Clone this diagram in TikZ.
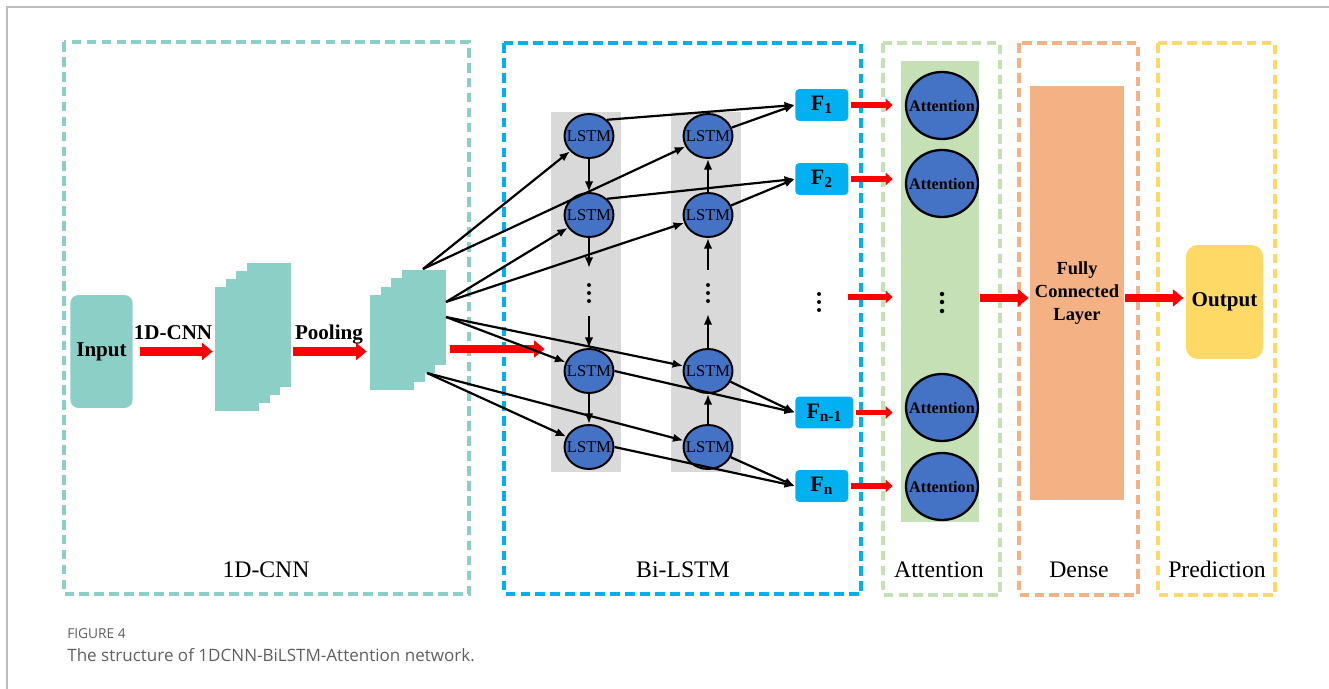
\documentclass[tikz,border=0pt]{standalone}
\usepackage{fontspec}
\setmainfont{Liberation Serif}
\newfontfamily\capfont{Open Sans}
\usepackage{xcolor}
\usepackage{tikz}
\usetikzlibrary{arrows.meta}
\usetikzlibrary{shapes.geometric}
\definecolor{cnnteal}{HTML}{8CCFC7}
\definecolor{lstmcyan}{HTML}{00B0F0}
\definecolor{lstmblue}{HTML}{4472C4}
\definecolor{colgray}{HTML}{D9D9D9}
\definecolor{attgreen}{HTML}{C5E0B4}
\definecolor{fcorange}{HTML}{F4B183}
\definecolor{outyellow}{HTML}{FFD966}
\definecolor{arrred}{HTML}{FF0000}
\definecolor{framegray}{HTML}{BDBDBD}
\definecolor{capgray}{HTML}{5F5F5F}
\newcommand{\celltext}[1]{\makebox[0pt]{#1}}

\begin{document}
\begin{tikzpicture}[x=0.02cm,y=-0.02cm,
    dashbox/.style={draw=#1, line width=1.9pt, dash pattern=on 5.5pt off 3pt},
    blk/.style={black, line width=1.25pt, -{Latex[length=6pt,width=4.8pt]}},
    bigred/.style={arrred, line width=5pt, -{Triangle[length=6pt,width=9.5pt]}},
    smallred/.style={arrred, line width=3.3pt, -{Triangle[length=4pt,width=7pt]}},
    cnnmap/.style={fill=cnnteal, minimum width=0.88cm, minimum height=2.48cm, inner sep=0pt},
    poolmap/.style={fill=cnnteal, minimum width=0.88cm, minimum height=1.9cm, inner sep=0pt},
    lstmcell/.style={ellipse, draw=black, line width=1.1pt, fill=lstmblue, minimum width=0.98cm, minimum height=0.88cm, inner sep=0pt, font=\fontsize{9.4}{10}\selectfont},
    attcell/.style={ellipse, draw=black, line width=1.3pt, fill=lstmblue, minimum width=1.44cm, minimum height=1.34cm, inner sep=0pt, font=\bfseries\fontsize{9.2}{10}\selectfont},
    fbox/.style={fill=lstmcyan, rounded corners=0.08cm, minimum width=1.06cm, minimum height=0.64cm, inner sep=0pt, anchor=west, font=\bfseries\fontsize{12.5}{13}\selectfont},
    boldtxt/.style={font=\bfseries\fontsize{12}{14}\selectfont},
    secttxt/.style={anchor=base, font=\fontsize{13.5}{15}\selectfont}]
    \useasboundingbox (0,0) rectangle (1329,689);
    % Draw page frame
    \draw[framegray, line width=0.9pt] (7,689) -- (7,7) -- (1329,7);
    % Draw dashed section boxes
    \draw[dashbox=cnnteal] (64,42) rectangle (469,594);
    \draw[dashbox=lstmcyan] (504,43) rectangle (861,594);
    \draw[dashbox=attgreen] (883,43) rectangle (1000,595);
    \draw[dashbox=fcorange] (1019,43) rectangle (1138,595);
    \draw[dashbox=outyellow] (1158,43) rectangle (1275,595);
    \node[secttxt] (lbcnn) at (266,577) {1D-CNN};
    \node[secttxt] (lblstm) at (683,577) {Bi-LSTM};
    \node[secttxt] (lbatt) at (939,577) {Attention};
    \node[secttxt] (lbdense) at (1079,577) {Dense};
    \node[secttxt] (lbpred) at (1217,577) {Prediction};
    % 1D-CNN part
    \node[fill=cnnteal, rounded corners=0.16cm, minimum width=1.14cm, minimum height=2.26cm, boldtxt] (inp) at (101.5,351.5) {Input};
    \foreach \k in {3,2,1,0}
    {
        \node[cnnmap] (cnn\k) at ({237+10.7*\k},{349-8*\k}) {};
        \node[poolmap] (pool\k) at ({392+10.7*\k},{342.5-8.3*\k}) {};
    }
    \draw[bigred, shorten <=0.14cm, shorten >=0.04cm] (inp.east) -- (inp.east -| cnn0.west);
    \node[boldtxt, anchor=base] (lbconv) at (173,339) {1D-CNN};
    \draw[bigred, shorten <=0.04cm, shorten >=0.06cm] (cnn3.east |- inp.east) -- (pool0.west |- inp.east);
    \node[boldtxt, anchor=base] (lbpool) at (329,339) {Pooling};
    % Bi-LSTM part
    \node[fill=colgray, minimum width=1.4cm, minimum height=7.2cm, inner sep=0pt] (col1) at (586,292) {};
    \node[fill=colgray, minimum width=1.4cm, minimum height=7.2cm, inner sep=0pt] (col2) at (706,292) {};
    \coordinate (poolout) at (450,349);
    \draw[bigred, shorten >=0.12cm] (poolout) -- (poolout -| col1.west);
    \node[lstmcell] (c11) at (589,136) {\celltext{LSTM}};
    \node[lstmcell] (c12) at (589,215) {\celltext{LSTM}};
    \node[lstmcell] (c13) at (589,371) {\celltext{LSTM}};
    \node[lstmcell] (c14) at (589,447) {\celltext{LSTM}};
    \node[lstmcell] (c21) at (708,136) {\celltext{LSTM}};
    \node[lstmcell] (c22) at (708,215) {\celltext{LSTM}};
    \node[lstmcell] (c23) at (708,371) {\celltext{LSTM}};
    \node[lstmcell] (c24) at (708,447) {\celltext{LSTM}};
    % forward and backward chains
    \coordinate (d1a) at (589,268);
    \coordinate (d1b) at (589,316);
    \coordinate (d2a) at (708,270);
    \coordinate (d2b) at (708,314);
    \draw[blk] (c11) -- (c12);
    \draw[blk] (c12) -- (d1a);
    \draw[blk] (d1b) -- (c13);
    \draw[blk] (c13) -- (c14);
    \draw[blk] (c22) -- (c21);
    \draw[blk] (d2a) -- (c22);
    \draw[blk] (c23) -- (d2b);
    \draw[blk] (c24) -- (c23);
    \foreach \px in {589,708}
    {
        \foreach \py in {285,293,301}
        {
            \fill[black] (\px,\py) circle (0.04cm);
        }
    }
    % inputs from pooled maps
    \coordinate (o1) at (423,269);
    \coordinate (o2) at (446,302);
    \coordinate (o3) at (446,317);
    \coordinate (o4) at (427,373);
    \draw[blk] (o1) -- (c11);
    \draw[blk] (o1) -- (c21);
    \draw[blk] (o2) -- (c12);
    \draw[blk] (o2) -- (c22);
    \draw[blk] (o3) -- (c13);
    \draw[blk] (o3) -- (c23);
    \draw[blk] (o4) -- (c14);
    \draw[blk] (o4) -- (c24);
    % feature outputs
    \node[fbox] (f1) at (795,105) {F\textsubscript{1}};
    \node[fbox] (f2) at (795,179) {F\textsubscript{2}};
    \node[fbox, minimum width=1.16cm] (fn1) at (795,412.5) {F\textsubscript{n-1}};
    \node[fbox] (fn) at (795,486) {F\textsubscript{n}};
    \draw[blk] (c11.north east) -- (f1.west);
    \draw[blk] (c21) -- (f1.west);
    \draw[blk] (c12.north east) -- (f2.west);
    \draw[blk] (c22) -- (f2.west);
    \draw[blk] (c13.east) -- (fn1.west);
    \draw[blk] (c23) -- (fn1.west);
    \draw[blk] (c14.east) -- (fn.west);
    \draw[blk] (c24) -- (fn.west);
    \foreach \py in {294,302,310}
    {
        \fill[black] (819,\py) circle (0.04cm);
    }
    % Attention part
    \node[fill=attgreen, minimum width=1.56cm, minimum height=9.22cm, inner sep=0pt] (attcol) at (940,291.5) {};
    \node[attcell] (a1) at (942,105.5) {\celltext{Attention}};
    \node[attcell] (a2) at (942,183.5) {\celltext{Attention}};
    \node[attcell] (a3) at (942,407.5) {\celltext{Attention}};
    \node[attcell] (a4) at (942,486.5) {\celltext{Attention}};
    \foreach \py in {294,302,311}
    {
        \fill[black] (942,\py) circle (0.045cm);
    }
    \coordinate (fdot) at (848,297);
    \draw[smallred, shorten <=0.04cm, shorten >=0.16cm] (f1.east) -- (f1.east -| attcol.west);
    \draw[smallred, shorten <=0.04cm, shorten >=0.16cm] (f2.east) -- (f2.east -| attcol.west);
    \draw[smallred, shorten >=0.16cm] (fdot) -- (fdot -| attcol.west);
    \draw[smallred, shorten <=0.04cm, shorten >=0.16cm] (fn1.east) -- (fn1.east -| attcol.west);
    \draw[smallred, shorten <=0.04cm, shorten >=0.16cm] (fn.east) -- (fn.east -| attcol.west);
    % Dense and prediction
    \node[fill=fcorange, minimum width=1.88cm, minimum height=8.28cm, inner sep=0pt, align=center, font=\bfseries\fontsize{10.5}{13}\selectfont] (fc) at (1077,293) {Fully\\Connected\\Layer};
    \node[fill=outyellow, rounded corners=0.24cm, minimum width=1.5cm, minimum height=2.28cm, boldtxt] (out) at (1224.5,302) {Output};
    \coordinate (attout) at (980,298);
    \draw[bigred, shorten >=0.02cm] (attout) -- (attout -| fc.west);
    \draw[bigred, shorten <=0.02cm, shorten >=0.04cm] (fc.east |- attout) -- (out.west |- attout);
    % Caption
    \node[anchor=base west, inner sep=0pt, text=capgray, font=\capfont\fontsize{7.8}{9}\selectfont] (figno) at (67,638) {FIGURE 4};
    \node[anchor=base west, inner sep=0pt, text=capgray, font=\capfont\fontsize{9.7}{11}\selectfont] (figcap) at (67,661) {The structure of 1DCNN-BiLSTM-Attention network.};
\end{tikzpicture}
\end{document}
